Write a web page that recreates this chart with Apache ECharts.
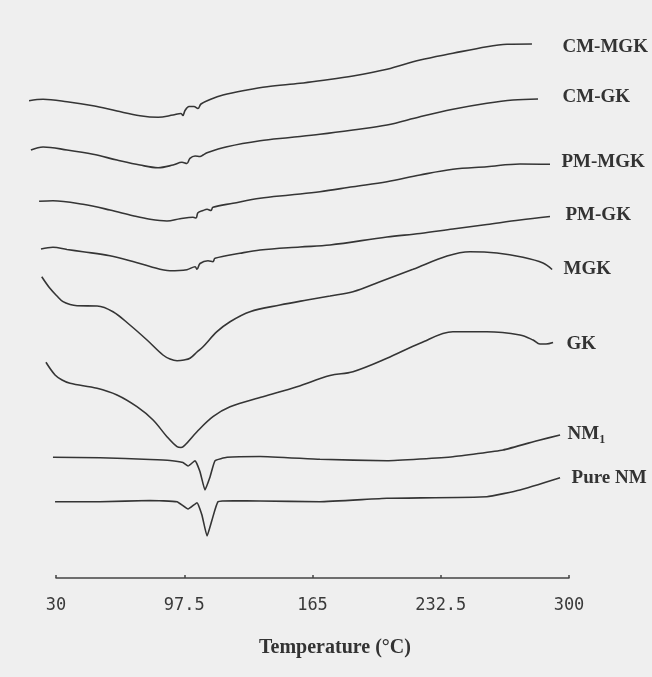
<!DOCTYPE html>
<html><head><meta charset="utf-8">
<script src="https://cdn.jsdelivr.net/npm/echarts@6/dist/echarts.min.js"></script>
<style>html,body{margin:0;padding:0;background:#efefef}#c{width:652px;height:677px}</style>
</head><body><div id="c"></div>
<script>
// Temperature tick values (°C)
const tickValues = [30, 97.5, 165, 232.5, 300];
const seriesNames = ['CM-MGK', 'CM-GK', 'PM-MGK', 'PM-GK', 'MGK', 'GK', 'NM1', 'Pure NM'];
const seriesLabels = ['CM-MGK', 'CM-GK', 'PM-MGK', 'PM-GK', 'MGK', 'GK', 'NM{sub|1}', 'Pure NM'];

// Heat flow (arbitrary units, curves offset) vs temperature (°C)
const cmMgkT = [15.8, 23.2, 35.8, 49.5, 62.1, 74.2, 83.7, 91.6, 95.8, 96.8, 97.9, 100.0, 102.6, 104.7, 106.3, 111.1, 117.9, 130.5, 141.1, 158.4, 168.9, 186.3, 204.2, 221.6, 238.9, 256.8, 267.4, 280.5];
const cmMgkV = [477.3, 478.7, 476.3, 472.3, 467.0, 462.3, 460.7, 463.0, 464.5, 462.5, 467.5, 471.5, 471.5, 469.5, 474.0, 478.5, 483.0, 488.0, 491.3, 494.7, 497.3, 502.0, 508.7, 518.0, 524.7, 531.3, 533.7, 534.0];

const cmGkT = [16.8, 23.2, 35.8, 49.5, 62.1, 74.2, 83.7, 91.6, 96.3, 98.9, 100.5, 103.2, 105.8, 107.4, 109.5, 120.0, 137.4, 153.2, 168.9, 186.3, 204.2, 221.6, 238.9, 256.8, 270.5, 283.7];
const cmGkV = [428.0, 431.0, 428.0, 423.7, 418.0, 413.0, 410.3, 413.0, 415.7, 414.5, 419.7, 422.0, 421.5, 423.0, 425.3, 431.3, 437.3, 440.5, 443.7, 448.0, 453.0, 461.3, 468.7, 474.7, 478.0, 479.0];

const pmMgkT = [21.1, 28.4, 44.2, 58.4, 70.5, 79.5, 88.4, 95.3, 102.1, 103.7, 104.7, 107.4, 109.5, 111.6, 112.6, 123.2, 137.4, 153.2, 168.9, 186.3, 204.2, 221.6, 238.9, 256.8, 274.2, 290.0];
const pmMgkV = [376.7, 377.3, 373.7, 368.0, 362.3, 358.7, 357.0, 359.2, 360.7, 360.0, 365.3, 367.5, 368.7, 367.5, 370.7, 374.7, 379.7, 383.0, 386.3, 391.3, 396.3, 403.0, 408.7, 411.3, 414.0, 413.7];

const pmGkT = [22.1, 28.4, 35.8, 44.2, 58.4, 70.5, 79.5, 90.0, 98.9, 103.2, 104.2, 105.8, 110.0, 112.6, 113.7, 126.8, 137.4, 158.4, 174.2, 204.2, 221.6, 238.9, 256.8, 274.2, 290.0];
const pmGkV = [329.0, 330.7, 328.5, 326.3, 322.3, 316.5, 311.5, 307.2, 308.3, 311.3, 308.7, 314.5, 317.3, 316.3, 319.7, 324.7, 328.0, 331.0, 333.0, 341.0, 344.5, 349.0, 353.5, 358.0, 361.5];

const mgkT = [22.5, 26.8, 30.5, 33.7, 37.4, 41.1, 51.6, 60.0, 68.9, 77.9, 86.3, 90.0, 93.7, 97.4, 100.5, 104.2, 107.4, 114.7, 121.6, 132.1, 147.9, 162.1, 174.2, 186.3, 200.5, 217.9, 235.8, 247.9, 262.1, 275.8, 286.3, 291.1];
const mgkV = [301.3, 289.7, 282.0, 276.3, 273.5, 272.3, 272.0, 266.3, 253.0, 238.0, 223.0, 219.0, 217.3, 218.0, 219.7, 226.0, 231.3, 246.3, 256.3, 266.3, 273.0, 278.0, 282.0, 286.3, 296.3, 308.7, 322.0, 326.3, 325.0, 320.7, 315.0, 308.5];

const gkT = [24.7, 29.5, 33.2, 37.4, 51.6, 62.1, 72.6, 81.1, 88.4, 93.7, 95.8, 97.9, 104.2, 112.6, 121.6, 138.9, 156.8, 174.2, 186.3, 204.2, 221.6, 238.9, 256.8, 274.2, 281.1, 284.7, 287.9, 291.6];
const gkV = [215.7, 203.0, 198.0, 194.7, 189.7, 183.0, 171.3, 158.0, 141.3, 131.3, 130.5, 133.0, 146.3, 161.3, 171.3, 181.3, 191.3, 202.5, 206.3, 219.7, 234.7, 246.3, 246.3, 243.0, 238.0, 234.0, 234.0, 235.5];

const nm1T = [28.4, 53.2, 79.5, 90.0, 96.8, 99.5, 103.2, 105.8, 108.4, 111.1, 113.7, 120.0, 137.4, 168.9, 204.2, 238.9, 265.3, 283.2, 295.3];
const nm1V = [120.7, 120.3, 118.5, 117.5, 115.5, 112.0, 117.3, 106.3, 88.0, 101.3, 117.3, 120.7, 121.5, 118.7, 117.3, 121.3, 128.0, 137.3, 143.0];

const pureNmT = [29.5, 53.2, 79.5, 93.7, 99.5, 104.2, 106.8, 109.5, 112.1, 115.3, 123.2, 137.4, 168.9, 204.2, 256.8, 274.2, 295.3];
const pureNmV = [76.3, 76.3, 77.5, 76.3, 69.0, 75.3, 63.0, 42.0, 58.0, 76.3, 77.3, 77.0, 76.3, 79.7, 81.3, 88.0, 100.3];

const curveT = [cmMgkT, cmGkT, pmMgkT, pmGkT, mgkT, gkT, nm1T, pureNmT];
const curveV = [cmMgkV, cmGkV, pmMgkV, pmGkV, mgkV, gkV, nm1V, pureNmV];

// ---- layout / styling (not data) ----
const W = 652;
const axisLeft = 56, axisRight = 83, gridTop = 38, gridBottom = 99;
const tMin = 30, tMax = 300;
// the traces start before 30 °C, so they live in a full-width grid sharing the same °C scale
const degPerPx = (tMax - tMin) / (W - axisLeft - axisRight);
const fullMin = tMin - axisLeft * degPerPx;
const fullMax = tMax + axisRight * degPerPx;

const lineColor = '#353535';
const textColor = '#333333';
const smoothness = [0.35, 0.35, 0.35, 0.35, 0.35, 0.35, 0.12, 0.12];
const labelOffsets = [[30, 3], [24, -2], [11, -2], [15, -1], [11, 0], [13, 2], [7, -1], [11, 0]];
const serif = '"Liberation Serif", "Times New Roman", serif';

const zip = (t, v) => t.map((x, i) => [x, v[i]]);

const lineSeries = seriesNames.map((name, i) => ({
  name: name,
  type: 'line',
  xAxisIndex: 0,
  yAxisIndex: 0,
  data: zip(curveT[i], curveV[i]),
  showSymbol: false,
  symbol: 'none',
  smooth: smoothness[i],
  silent: true,
  lineStyle: { color: lineColor, width: 1.6 },
  z: 3
}));

const labelSeries = {
  name: 'labels',
  type: 'scatter',
  xAxisIndex: 0,
  yAxisIndex: 0,
  silent: true,
  symbolSize: 1,
  itemStyle: { color: 'rgba(0,0,0,0)', opacity: 1 },
  z: 4,
  data: seriesNames.map((name, i) => {
    const t = curveT[i], v = curveV[i];
    return {
      value: [t[t.length - 1], v[v.length - 1]],
      label: {
        show: true,
        position: 'right',
        distance: 0,
        offset: labelOffsets[i],
        formatter: seriesLabels[i],
        fontFamily: serif,
        fontWeight: 'bold',
        fontSize: 19,
        color: textColor,
        rich: {
          sub: { fontFamily: serif, fontWeight: 'bold', fontSize: 12, lineHeight: 24, verticalAlign: 'bottom', color: textColor }
        }
      }
    };
  })
};

const chart = echarts.init(document.getElementById('c'), null, { renderer: 'canvas' });
chart.setOption({
  animation: false,
  backgroundColor: '#efefef',
  grid: [
    { left: 0, right: 0, top: gridTop, bottom: gridBottom },
    { left: axisLeft, right: axisRight, top: gridTop, bottom: gridBottom }
  ],
  xAxis: [
    { type: 'value', gridIndex: 0, min: fullMin, max: fullMax, show: false, splitLine: { show: false } },
    {
      type: 'value',
      gridIndex: 1,
      min: tMin,
      max: tMax,
      name: 'Temperature (°C)',
      nameLocation: 'middle',
      nameGap: 60,
      nameTextStyle: {
        fontFamily: serif,
        fontWeight: 'bold',
        fontSize: 20,
        color: textColor,
        padding: [0, 0, 0, 45]
      },
      axisLine: { show: true, lineStyle: { color: '#444', width: 1.5 } },
      axisTick: { show: true, inside: true, length: 3, customValues: tickValues, lineStyle: { color: '#444', width: 1.5 } },
      axisLabel: {
        customValues: tickValues,
        margin: 19,
        fontFamily: '"DejaVu Sans Mono", "Liberation Mono", monospace',
        fontSize: 17,
        color: '#3a3a3a',
        formatter: v => String(v)
      },
      splitLine: { show: false }
    }
  ],
  yAxis: [
    { type: 'value', gridIndex: 0, min: 0, max: 540, show: false, splitLine: { show: false } },
    { type: 'value', gridIndex: 1, min: 0, max: 540, show: false, splitLine: { show: false } }
  ],
  series: lineSeries.concat([labelSeries])
});
</script>
</body></html>
